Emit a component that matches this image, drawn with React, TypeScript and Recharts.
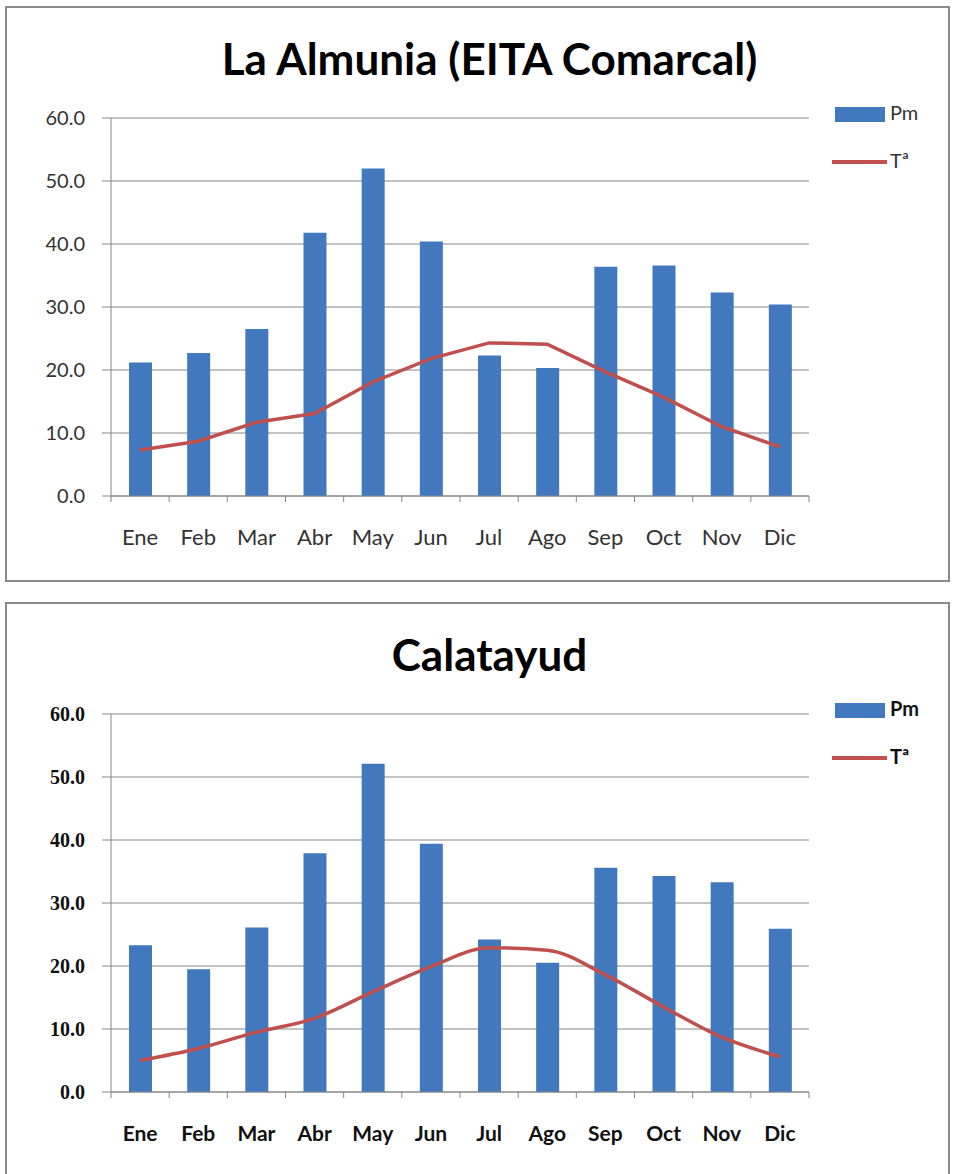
import { ComposedChart, Bar, Line, XAxis, YAxis, CartesianGrid } from "recharts";

const MONTHS = ["Ene", "Feb", "Mar", "Abr", "May", "Jun", "Jul", "Ago", "Sep", "Oct", "Nov", "Dic"];
const Y_TICKS = [0, 10, 20, 30, 40, 50, 60];

// La Almunia (EITA Comarcal)
const ALMUNIA_PM = [21.2, 22.7, 26.5, 41.8, 52.0, 40.4, 22.3, 20.3, 36.4, 36.6, 32.3, 30.4];
const ALMUNIA_T = [7.3, 8.7, 11.7, 13.1, 18.1, 21.8, 24.3, 24.1, 19.7, 15.7, 11.0, 7.8];

// Calatayud
const CALATAYUD_PM = [23.3, 19.5, 26.1, 37.9, 52.1, 39.4, 24.2, 20.5, 35.6, 34.3, 33.3, 25.9];
const CALATAYUD_T = [5.0, 6.9, 9.5, 11.7, 15.9, 19.9, 22.9, 22.5, 18.6, 13.5, 8.7, 5.6];

const BLUE = "#4178be";
const RED = "#c0504d";
const GRID = "#868686";
const BAND = 698 / 12;

interface Props {
  title: string;
  pm: number[];
  temp: number[];
  top: number;
  bold?: boolean;
  smooth?: boolean;
}

function MonthTick(props: any) {
  const { x, y, payload, index, bold } = props;
  const last = index === MONTHS.length - 1;
  return (
    <g>
      <line x1={x - BAND / 2} x2={x - BAND / 2} y1={y - 8} y2={y - 2} stroke={GRID} />
      {last && <line x1={x + BAND / 2} x2={x + BAND / 2} y1={y - 8} y2={y - 2} stroke={GRID} />}
      <text x={x} y={y + 41} textAnchor="middle" fontSize={bold ? 21 : 22} fontWeight={bold ? 700 : 400}
        fill={bold ? "#111" : "#333"} fontFamily="Lato, sans-serif">
        {payload.value}
      </text>
    </g>
  );
}

// legend drawn beside the plot, like the Excel original
function LegendBox({ bold }: { bold?: boolean }) {
  const font = { fontFamily: "Lato, sans-serif", fontSize: 20, fontWeight: bold ? 700 : 400, color: bold ? "#111" : "#333" };
  return (
    <div style={{ position: "absolute", left: 823, top: 90, width: 120, height: 80 }}>
      <div style={{ position: "absolute", left: 5, top: 9, width: 50, height: 15, background: BLUE }} />
      <span style={{ ...font, position: "absolute", left: 60, top: 2 }}>Pm</span>
      <div style={{ position: "absolute", left: 2, top: 62, width: 55, height: 4, background: RED }} />
      <span style={{ ...font, position: "absolute", left: 60, top: 50 }}>Tª</span>
    </div>
  );
}

function ClimateChart({ title, pm, temp, top, bold, smooth }: Props) {
  const data = MONTHS.map((m, i) => ({ month: m, pm: pm[i], temp: temp[i] }));
  return (
    <div style={{ position: "absolute", left: 5, top, width: 945, height: 576, border: "2px solid #8a8a8a", background: "#fff", boxSizing: "border-box" }}>
      <div style={{ position: "absolute", left: 0, right: 0, top: 24, textAlign: "center", fontFamily: "Lato, sans-serif",
        fontWeight: 700, fontSize: 44, color: "#000" }}>
        <span style={{ display: "inline-block", transform: "translateX(12px)" }}>{title}</span>
      </div>
      <div style={{ position: "absolute", left: -2, top: -2 }}>
        <ComposedChart width={945} height={576} data={data} margin={{ top: 112, right: 141, bottom: 36, left: 0 }}>
          <CartesianGrid vertical={false} stroke={GRID} strokeWidth={1} />
          <XAxis dataKey="month" height={50} stroke={GRID} tickLine={false} interval={0}
            tick={(p: any) => <MonthTick {...p} bold={bold} />} />
          <YAxis width={106} domain={[0, 60]} ticks={Y_TICKS} stroke={GRID} tickSize={9} tickMargin={17}
            tickFormatter={(v: number) => v.toFixed(1)}
            tick={{ fontSize: 20, fill: bold ? "#111" : "#333", fontWeight: bold ? 700 : 400,
              fontFamily: bold ? "'Liberation Serif', serif" : "Lato, sans-serif" }} />
          <Bar dataKey="pm" name="Pm" fill={BLUE} barSize={23} isAnimationActive={false} />
          <Line dataKey="temp" name="Tª" type={smooth ? "monotone" : "linear"} stroke={RED} strokeWidth={3.5}
            dot={false} isAnimationActive={false} />
        </ComposedChart>
      </div>
      <LegendBox bold={bold} />
    </div>
  );
}

export default function App() {
  return (
    <div style={{ position: "absolute", left: 0, top: 0, width: 958, height: 1174, background: "#fff", overflow: "hidden" }}>
      <ClimateChart title="La Almunia (EITA Comarcal)" pm={ALMUNIA_PM} temp={ALMUNIA_T} top={6} />
      <ClimateChart title="Calatayud" pm={CALATAYUD_PM} temp={CALATAYUD_T} top={602} bold smooth />
    </div>
  );
}
